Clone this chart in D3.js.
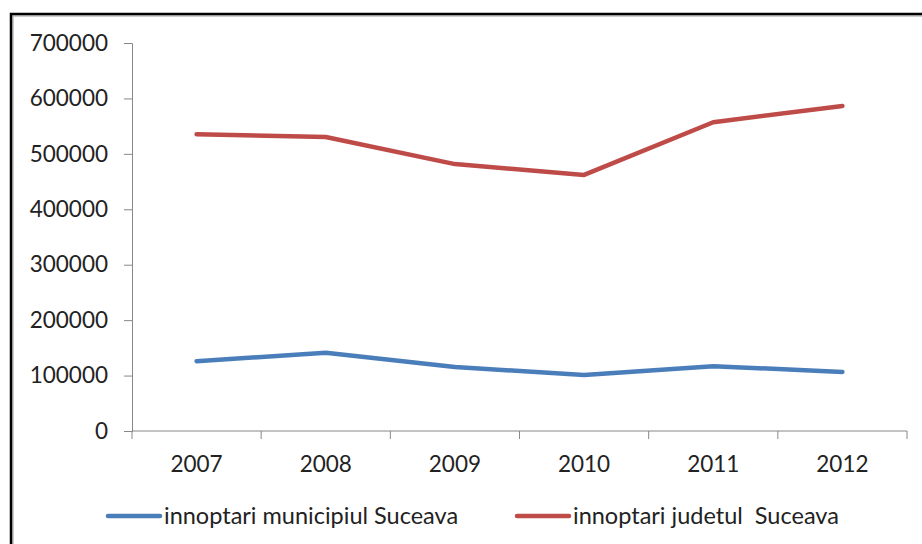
<!DOCTYPE html>
<html>
<head>
<meta charset="utf-8">
<script src="https://cdn.jsdelivr.net/npm/d3@7"></script>
<style>
  body { margin: 0; background: #fff; }
  #chart { width: 922px; height: 544px; }
</style>
</head>
<body>
<div id="chart"></div>
<script>
// data
const years = ['2007', '2008', '2009', '2010', '2011', '2012']
const municipiu = [126000, 141000, 115500, 101000, 117000, 106500]
const judet = [535500, 530500, 481500, 462000, 557000, 586500]
const yTicks = [0, 100000, 200000, 300000, 400000, 500000, 600000, 700000]
const seriesNames = ['innoptari municipiul Suceava', 'innoptari judetul  Suceava']

const width = 922, height = 544
const plotLeft = 132, plotRight = 907, plotTop = 43, plotBottom = 431

const svg = d3.select('#chart').append('svg')
    .attr('width', width)
    .attr('height', height)

// outer frame
svg.append('rect')
    .attr('x', 13).attr('y', 16)
    .attr('width', 940).attr('height', 600)
    .attr('fill', 'none')
    .attr('stroke', '#bbb').attr('stroke-width', 1.5)
svg.append('rect')
    .attr('x', 11).attr('y', 14)
    .attr('width', 940).attr('height', 600)
    .attr('fill', 'none')
    .attr('stroke', '#000').attr('stroke-width', 2.5)

const x = d3.scaleBand().domain(years).range([plotLeft, plotRight])
const y = d3.scaleLinear().domain([0, 700000]).range([plotBottom, plotTop])

// y axis
const yAxis = svg.append('g')
    .attr('transform', `translate(${plotLeft},0)`)
    .call(d3.axisLeft(y).tickValues(yTicks).tickSize(8).tickPadding(6).tickFormat(d => d))
yAxis.select('.domain').attr('stroke', '#888')
yAxis.selectAll('.tick line').attr('stroke', '#888')
yAxis.selectAll('text')
    .style('font-family', 'Lato')
    .style('font-size', '22.5px')
    .attr('fill', '#222')
    .attr('x', -24)

// x axis with ticks between categories
const xAxis = svg.append('g')
    .attr('transform', `translate(0,${plotBottom})`)
xAxis.append('line')
    .attr('x1', plotLeft).attr('x2', plotRight)
    .attr('stroke', '#888')
xAxis.selectAll('.sep')
    .data(years.concat(['end']))
    .enter().append('line')
    .attr('x1', (d, i) => i < years.length ? x(d) : x(years[years.length - 1]) + x.bandwidth())
    .attr('x2', (d, i) => i < years.length ? x(d) : x(years[years.length - 1]) + x.bandwidth())
    .attr('y1', 0).attr('y2', 8)
    .attr('stroke', '#888')
xAxis.selectAll('.lbl')
    .data(years)
    .enter().append('text')
    .attr('x', d => x(d) + x.bandwidth() / 2)
    .attr('y', 41)
    .attr('text-anchor', 'middle')
    .style('font-family', 'Lato')
    .style('font-size', '22.5px')
    .attr('fill', '#222')
    .text(d => d)

const line = d3.line()
    .x((d, i) => x(years[i]) + x.bandwidth() / 2)
    .y(d => y(d))

const colors = ['#4a7ebb', '#be4b48']
const data = [municipiu, judet]

data.forEach((s, k) => {
    svg.append('path')
        .datum(s)
        .attr('fill', 'none')
        .attr('stroke', colors[k])
        .attr('stroke-width', 4.5)
        .attr('stroke-linecap', 'round')
        .attr('stroke-linejoin', 'round')
        .attr('d', line)
})

// legend
const legendX = [108, 517]
const legend = svg.selectAll('.legend')
    .data(seriesNames)
    .enter().append('g')
    .attr('transform', (d, i) => `translate(${legendX[i]},516)`)
legend.append('line')
    .attr('x1', 0).attr('x2', 52)
    .attr('stroke', (d, i) => colors[i])
    .attr('stroke-width', 4.5)
    .attr('stroke-linecap', 'round')
legend.append('text')
    .attr('x', 56)
    .attr('y', 8)
    .style('font-family', 'Lato')
    .style('font-size', '23.5px')
    .style('white-space', 'pre')
    .attr('fill', '#222')
    .text(d => d)
</script>
</body>
</html>
